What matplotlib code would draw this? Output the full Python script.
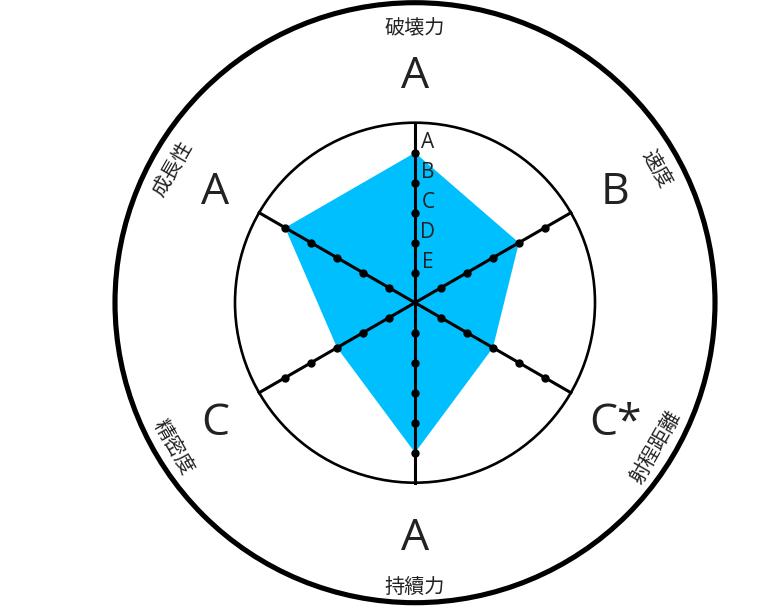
import numpy as np
import matplotlib
matplotlib.use('Agg')
import matplotlib.pyplot as plt
from matplotlib.patches import Circle

plt.rcParams['font.family'] = ['Noto Sans CJK JP', 'DejaVu Sans']

# stat names, clockwise from the top
categories = ['破壊力', '速度', '射程距離', '持續力', '精密度', '成長性']
grades = ['A', 'B', 'C', 'A', 'C', 'A']          # values used for the polygon
grade_labels = ['A', 'B', 'C*', 'A', 'C', 'A']   # letters shown around the chart
scale = ['E', 'D', 'C', 'B', 'A']
grade_value = {g: i + 1 for i, g in enumerate(scale)}

# layout in pixels (figure is 758x615 at dpi 100)
cx, cy = 415, 302.7
r_outer, r_inner = 300, 180
step = 30
text_shift = 5.5
latin = ['Open Sans', 'Noto Sans CJK JP']

angles = np.deg2rad(90 - 60 * np.arange(len(categories)))

fig = plt.figure(figsize=(7.58, 6.15), dpi=100)
ax = fig.add_axes([0, 0, 1, 1])
ax.set_xlim(0, 758)
ax.set_ylim(615, 0)
ax.set_aspect('equal')
ax.axis('off')

ax.add_patch(Circle((cx, cy), r_outer, fill=False, lw=3.7, color='black'))
ax.add_patch(Circle((cx, cy), r_inner, fill=False, lw=1.9, color='black'))

# filled stat polygon
vals = np.array([grade_value[g] * step for g in grades])
px = cx + vals * np.cos(angles)
py = cy - vals * np.sin(angles)
ax.fill(px, py, color='#00BFFF', lw=0, zorder=2)

# spokes with dots at each grade
ticks = np.arange(1, len(scale) + 1) * step
for a in angles:
    ax.plot([cx, cx + r_inner * np.cos(a)], [cy, cy - r_inner * np.sin(a)],
            color='black', lw=2.2, zorder=3)
    ax.plot(cx + ticks * np.cos(a), cy - ticks * np.sin(a), 'o',
            color='black', ms=5, zorder=4)

# grade letters along the top spoke
for t, s in zip(ticks, scale):
    ax.text(cx + 13, cy - t - 10, s, ha='center', va='center', fontsize=15,
            color='#222222', family=latin, zorder=5)

# big grade letters and stat names
for a, lab, name in zip(angles, grade_labels, categories):
    ax.text(cx + 231 * np.cos(a), cy + text_shift - 231 * np.sin(a), lab,
            ha='center', va='center', fontsize=32, color='#222222', family=latin)
    deg = np.rad2deg(a) % 360
    if np.isclose(deg, 90) or np.isclose(deg, 270):
        rot = 0
    elif deg < 180:
        rot = deg - 90
    else:
        rot = deg + 90
    ax.text(cx + 279 * np.cos(a), cy + text_shift - 279 * np.sin(a), name,
            ha='center', va='center', fontsize=14.5, rotation=rot,
            rotation_mode='anchor', color='#222222')

fig.savefig('out.png', dpi=100)
